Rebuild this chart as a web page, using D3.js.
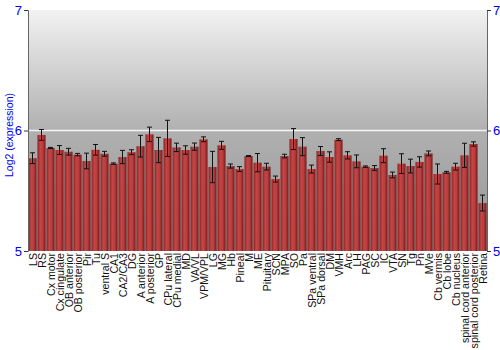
<!DOCTYPE html>
<html>
<head>
<meta charset="utf-8">
<script src="https://cdn.jsdelivr.net/npm/d3@7"></script>
<style>
  body { margin: 0; background: #fff; }
  text { font-family: "Liberation Sans", Arial, sans-serif; }
</style>
</head>
<body>
<div id="chart"></div>
<script>

    // brain regions, in plot order
    const regions = ["LS", "RS", "Cx motor", "Cx cingulate", "OB anterior", "OB posterior", "Pir", "Tu",
        "ventral S", "CA1", "CA2/CA3", "DG", "A anterior", "A posterior", "GP", "CPu lateral", "CPu medial",
        "MD", "VA/VL", "VPM/VPL", "LG", "MG", "Hb", "Pineal", "M", "ME", "Pituitary", "SCN", "MPA", "SO",
        "Pa", "SPa ventral", "SPa dorsal", "DM", "VMH", "Arc", "LH", "PAG", "SC", "IC", "VTA", "SN", "Tg",
        "Pn", "MVe", "Cb vermis", "Cb lobe", "Cb nucleus", "spinal cord anterior", "spinal cord posterior", "Retina"];

    // mean log2 expression
    const means = [5.77, 5.963, 5.855, 5.838, 5.824, 5.80, 5.747, 5.84,
        5.807, 5.725, 5.78, 5.82, 5.87, 5.968, 5.838, 5.935, 5.86,
        5.838, 5.866, 5.927, 5.697, 5.877, 5.705, 5.68, 5.788, 5.733, 5.70, 5.597, 5.788, 5.929,
        5.866, 5.68, 5.83, 5.78, 5.924, 5.794, 5.744, 5.70, 5.689, 5.791, 5.631, 5.725, 5.705,
        5.739, 5.81, 5.639, 5.653, 5.70, 5.794, 5.888, 5.398];

    // error (half width of the bar)
    const errors = [0.045, 0.045, 0.005, 0.037, 0.028, 0.01, 0.065, 0.044,
        0.02, 0.006, 0.055, 0.02, 0.09, 0.06, 0.105, 0.15, 0.035,
        0.035, 0.03, 0.02, 0.13, 0.033, 0.017, 0.02, 0.004, 0.076, 0.028, 0.025, 0.015, 0.087,
        0.075, 0.033, 0.037, 0.043, 0.008, 0.03, 0.053, 0.006, 0.02, 0.058, 0.024, 0.082, 0.057,
        0.043, 0.02, 0.083, 0.008, 0.028, 0.1, 0.018, 0.066];

    const yTicks = [5, 6, 7];

    const width = 500, height = 350;
    const margin = {top: 10, right: 13, bottom: 99, left: 28};
    const innerW = width - margin.left - margin.right;
    const innerH = height - margin.top - margin.bottom;

    const svg = d3.select("#chart").append("svg")
        .attr("width", width).attr("height", height);

    const defs = svg.append("defs");

    // grey background fading from light at top to darker at bottom
    const bg = defs.append("linearGradient").attr("id", "bg-grad")
        .attr("x1", 0).attr("y1", 0).attr("x2", 0).attr("y2", 1);
    bg.append("stop").attr("offset", "0%").attr("stop-color", "#f2f2f2");
    bg.append("stop").attr("offset", "50%").attr("stop-color", "#b0b0b0");
    bg.append("stop").attr("offset", "100%").attr("stop-color", "#959595");

    // bars: dark edges, lighter middle
    const barGrad = defs.append("linearGradient").attr("id", "bar-grad")
        .attr("x1", 0).attr("y1", 0).attr("x2", 1).attr("y2", 0);
    barGrad.append("stop").attr("offset", "0%").attr("stop-color", "#8a2424");
    barGrad.append("stop").attr("offset", "35%").attr("stop-color", "#c44545");
    barGrad.append("stop").attr("offset", "65%").attr("stop-color", "#bb3c3c");
    barGrad.append("stop").attr("offset", "100%").attr("stop-color", "#6e1a1a");

    const g = svg.append("g").attr("transform", "translate(" + margin.left + "," + margin.top + ")");

    const x = d3.scaleBand().domain(regions).range([0, innerW]).paddingInner(0.1).paddingOuter(0.05);
    const y = d3.scaleLinear().domain([5, 7]).range([innerH, 0]);

    g.append("rect").attr("width", innerW).attr("height", innerH).attr("fill", "url(#bg-grad)");

    // white gridline at 6
    g.append("line")
        .attr("x1", 0).attr("x2", innerW)
        .attr("y1", y(6)).attr("y2", y(6))
        .attr("stroke", "#f4f4f4").attr("stroke-width", 1.5);

    const data = regions.map(function (r, i) { return {name: r, mean: means[i], err: errors[i]}; });

    g.selectAll(".bar").data(data).enter().append("rect")
        .attr("class", "bar")
        .attr("x", function (d) { return x(d.name); })
        .attr("width", x.bandwidth())
        .attr("y", function (d) { return y(d.mean); })
        .attr("height", function (d) { return innerH - y(d.mean); })
        .attr("fill", "url(#bar-grad)");

    // error bars
    const eb = g.selectAll(".err").data(data).enter().append("g").attr("class", "err")
        .attr("stroke", "#111").attr("stroke-width", 1);
    const cx = function (d) { return x(d.name) + x.bandwidth() / 2; };
    eb.append("line")
        .attr("x1", cx).attr("x2", cx)
        .attr("y1", function (d) { return y(d.mean - d.err); })
        .attr("y2", function (d) { return y(d.mean + d.err); });
    eb.append("line")
        .attr("x1", function (d) { return cx(d) - 2.5; }).attr("x2", function (d) { return cx(d) + 2.5; })
        .attr("y1", function (d) { return y(d.mean + d.err); })
        .attr("y2", function (d) { return y(d.mean + d.err); });
    eb.append("line")
        .attr("x1", function (d) { return cx(d) - 2.5; }).attr("x2", function (d) { return cx(d) + 2.5; })
        .attr("y1", function (d) { return y(d.mean - d.err); })
        .attr("y2", function (d) { return y(d.mean - d.err); });

    // axes
    const leftAxis = g.append("g").call(d3.axisLeft(y).tickValues(yTicks).tickFormat(d3.format("d")).tickSize(4));
    const rightAxis = g.append("g").attr("transform", "translate(" + innerW + ",0)")
        .call(d3.axisRight(y).tickValues(yTicks).tickFormat(d3.format("d")).tickSize(4));
    [leftAxis, rightAxis].forEach(function (a) {
        a.select(".domain").attr("stroke", "#666");
        a.selectAll(".tick line").attr("stroke", "#333");
        a.selectAll(".tick text").attr("fill", "#0000ee").attr("font-size", 13)
            .attr("font-family", "Liberation Sans, Arial, sans-serif");
    });
    leftAxis.selectAll(".tick text").attr("x", -6);
    rightAxis.selectAll(".tick text").attr("x", 6);

    // category labels, vertical
    g.append("g").attr("transform", "translate(0," + innerH + ")")
        .selectAll("text").data(regions).enter().append("text")
        .attr("transform", function (d) {
            return "translate(" + (x(d) + x.bandwidth() / 2 + 4) + ",2) rotate(-90)";
        })
        .attr("text-anchor", "end")
        .attr("font-size", 10.6)
        .attr("fill", "#111")
        .text(function (d) { return d; });

    svg.append("text")
        .attr("transform", "translate(13,135) rotate(-90)")
        .attr("text-anchor", "middle")
        .attr("font-size", 10.5)
        .attr("fill", "#0000ee")
        .text("Log2 (expression)");

</script>
</body>
</html>
